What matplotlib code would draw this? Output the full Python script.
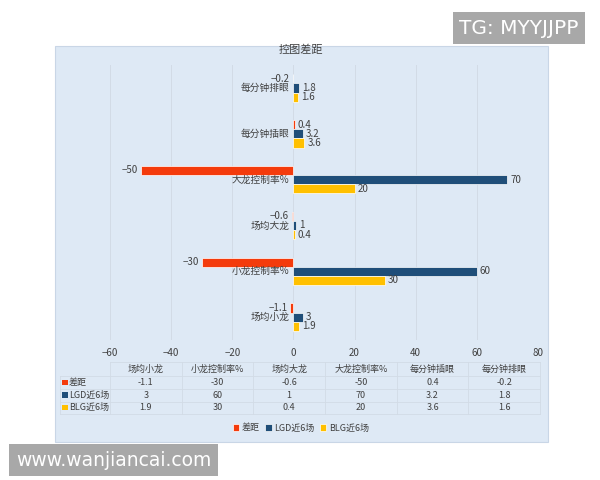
import numpy as np
import matplotlib
matplotlib.use("Agg")
import matplotlib.pyplot as plt
from matplotlib.patches import Rectangle

plt.rcParams["font.family"] = ["Noto Sans CJK SC", "DejaVu Sans"]

# categories bottom -> top as drawn on the chart
categories = ["场均小龙", "小龙控制率%", "场均大龙", "大龙控制率%", "每分钟插眼", "每分钟排眼"]
series_names = ["差距", "LGD近6场", "BLG近6场"]
gap = [-1.1, -30, -0.6, -50, 0.4, -0.2]
lgd = [3, 60, 1, 70, 3.2, 1.8]
blg = [1.9, 30, 0.4, 20, 3.6, 1.6]
colors = ["#F43B0C", "#1F4E79", "#FFC000"]
xticks = [-60, -40, -20, 0, 20, 40, 60, 80]

TXT = "#404040"
PANEL = "#DEE9F5"
GRID = "#D2DBE6"

fig = plt.figure(figsize=(6, 4.8), dpi=100)
fig.patch.set_facecolor("white")

W, H = 600.0, 480.0


def fx(px):
    return px / W


def fy(py):
    return 1 - py / H


# chart panel (behind everything)
fig.patches.append(Rectangle((fx(55), fy(442)), fx(548) - fx(55), fy(46) - fy(442),
                             transform=fig.transFigure, facecolor=PANEL,
                             edgecolor="#C9D6E6", linewidth=0.8, zorder=-5))

ax = fig.add_axes([fx(110), fy(340), (538 - 110) / W, (340 - 65) / H])
ax.set_facecolor("none")

y = np.arange(len(categories))
h = 0.2
all_series = [gap, lgd, blg]
offsets = [h, 0, -h]
bars = []
for vals, off, c, name in zip(all_series, offsets, colors, series_names):
    b = ax.barh(y + off, vals, height=h, color=c, edgecolor="white",
                linewidth=0.5, label=name, zorder=3)
    bars.append(b)
    for yi, v in zip(y + off, vals):
        ax.annotate(f"{v:g}".replace("-", "−"), xy=(v, yi),
                    xytext=(2 if v >= 0 else -2, 0), textcoords="offset points",
                    ha="left" if v >= 0 else "right", va="center",
                    fontsize=7, color=TXT, zorder=4)

for yi, cat in zip(y, categories):
    ax.annotate(cat, xy=(0, yi), xytext=(-3, 0), textcoords="offset points",
                ha="right", va="center", fontsize=7, color=TXT, zorder=5)

ax.set_xlim(-60, 80)
ax.set_ylim(-0.5, len(categories) - 0.5)
ax.set_xticks(xticks)
ax.set_xticklabels([str(t).replace("-", "−") for t in xticks], fontsize=7, color=TXT)
ax.set_yticks([])
ax.tick_params(axis="x", length=0, pad=6)
ax.grid(axis="x", color=GRID, linewidth=0.7, zorder=0)
for s in ax.spines.values():
    s.set_visible(False)

# title
fig.text(fx(301), fy(50), "控图差距", ha="center", va="center", fontsize=8, color=TXT)

# data table under the axis
col_edges = np.linspace(110, 540, len(categories) + 1)
col_mid = (col_edges[:-1] + col_edges[1:]) / 2
row_y = [369, 382.5, 395, 407.5]
row_lines = [362, 376, 389, 401.5, 414]
for yy in row_lines[1:]:
    fig.add_artist(plt.Line2D([fx(60), fx(540)], [fy(yy), fy(yy)], color=GRID, linewidth=0.6))
fig.add_artist(plt.Line2D([fx(110), fx(540)], [fy(362), fy(362)], color=GRID, linewidth=0.6))
for xx in col_edges:
    fig.add_artist(plt.Line2D([fx(xx), fx(xx)], [fy(362), fy(414)], color=GRID, linewidth=0.6))
fig.add_artist(plt.Line2D([fx(60), fx(60)], [fy(376), fy(414)], color=GRID, linewidth=0.6))

for xm, cat in zip(col_mid, categories):
    fig.text(fx(xm), fy(row_y[0]), cat, ha="center", va="center", fontsize=6.5, color=TXT)
for r, (vals, c, name) in enumerate(zip(all_series, colors, series_names)):
    yy = row_y[r + 1]
    fig.patches.append(Rectangle((fx(62), fy(yy + 2.7)), 5.5 / W, 5.5 / H,
                                 transform=fig.transFigure, facecolor=c, edgecolor="none"))
    fig.text(fx(69), fy(yy), name, ha="left", va="center", fontsize=6.5, color=TXT)
    for xm, v in zip(col_mid, vals):
        fig.text(fx(xm), fy(yy), f"{v:g}", ha="center", va="center", fontsize=6.5, color=TXT)

# legend
fig.legend(handles=bars, labels=series_names, loc="center", bbox_to_anchor=(fx(301), fy(428)),
           ncol=3, frameon=False, fontsize=6.5, handlelength=0.7, handleheight=0.7,
           columnspacing=0.6, handletextpad=0.3, labelcolor=TXT)

# watermark boxes
fig.text(fx(459), fy(28), "TG: MYYJJPP", ha="left", va="center", fontsize=14.5,
         color="white", family="DejaVu Sans",
         bbox=dict(boxstyle="square,pad=0.3", facecolor="#A8A8A8", edgecolor="none"))
fig.text(fx(16), fy(460), "www.wanjiancai.com", ha="left", va="center", fontsize=13.5,
         color="white", family="DejaVu Sans",
         bbox=dict(boxstyle="square,pad=0.35", facecolor="#A8A8A8", edgecolor="none"))

fig.savefig("out.png", dpi=100, facecolor="white")
